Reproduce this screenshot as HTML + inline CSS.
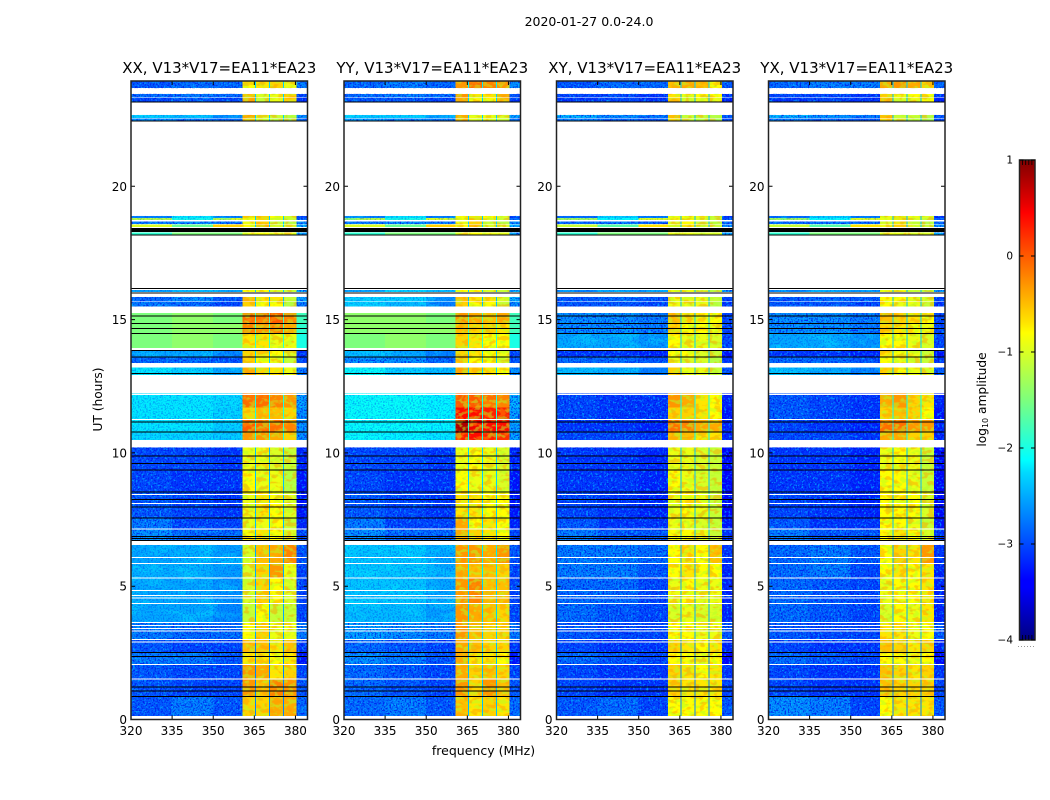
<!DOCTYPE html>
<html lang="en">
<head>
<meta charset="utf-8">
<title>2020-01-27 0.0-24.0</title>
<style>
html,body{margin:0;padding:0;background:#fff;width:1050px;height:800px;overflow:hidden}
svg{display:block}
text{font-family:"DejaVu Sans","Liberation Sans",sans-serif;fill:#000}
</style>
</head>
<body>
<svg id="fig" xmlns="http://www.w3.org/2000/svg" width="1050" height="800" viewBox="0 0 1050 800">
  <defs>
    <filter id="grain-dark" x="0" y="0" width="100%" height="100%" color-interpolation-filters="sRGB">
      <feTurbulence type="fractalNoise" baseFrequency="0.6" numOctaves="2" seed="4"/>
      <feColorMatrix type="matrix" values="0 0 0 0 0  0 0 0 0 0.05  0 0 0 0 0.9  5 0 0 0 -2.4"/>
    </filter>
    <filter id="grain-light" x="0" y="0" width="100%" height="100%" color-interpolation-filters="sRGB">
      <feTurbulence type="fractalNoise" baseFrequency="0.45" numOctaves="2" seed="11"/>
      <feColorMatrix type="matrix" values="0 0 0 0 0  0 0 0 0 0.72  0 0 0 0 1  0 5 0 0 -2.6"/>
    </filter>
    <filter id="swirl" x="0" y="0" width="100%" height="100%" color-interpolation-filters="sRGB">
      <feTurbulence type="fractalNoise" baseFrequency="0.05 0.09" numOctaves="3" seed="7"/>
      <feColorMatrix type="matrix" values="0 0 0 0 0  0 0 0 0 0.95  0 0 0 0 1  7 0 0 0 -3.4"/>
    </filter>
    <filter id="mottle-lime" x="0" y="0" width="100%" height="100%" color-interpolation-filters="sRGB">
      <feTurbulence type="fractalNoise" baseFrequency="0.16 0.24" numOctaves="2" seed="5"/>
      <feColorMatrix type="matrix" values="0 0 0 0 0.7  0 0 0 0 1  0 0 0 0 0.15  8 0 0 0 -3.9"/>
    </filter>
    <filter id="mottle-orange" x="0" y="0" width="100%" height="100%" color-interpolation-filters="sRGB">
      <feTurbulence type="fractalNoise" baseFrequency="0.14 0.22" numOctaves="2" seed="9"/>
      <feColorMatrix type="matrix" values="0 0 0 0 1  0 0 0 0 0.6  0 0 0 0 0  0 8 0 0 -4.1"/>
    </filter>
    <linearGradient id="jet-gradient" x1="0" y1="1" x2="0" y2="0"></linearGradient>
  </defs>
  <text x="589" y="26" font-size="12.5" text-anchor="middle">2020-01-27 0.0-24.0</text>
  <text x="483.5" y="755" font-size="12.5" text-anchor="middle">frequency (MHz)</text>
  <text x="0" y="0" font-size="12.2" text-anchor="middle" transform="translate(102 399.5) rotate(-90)">UT (hours)</text>
  <text x="0" y="0" font-size="12.2" text-anchor="middle" transform="translate(986 399.5) rotate(-90)">log<tspan font-size="8" dy="2">10</tspan><tspan dy="-2"> amplitude</tspan></text>
  <g id="panels"></g>
  <g id="colorbar"></g>
</svg>
<script>
// ---------- chart data (MHz, UT hours, log10 amplitude) ----------
const panelTitles = ["XX, V13*V17=EA11*EA23", "YY, V13*V17=EA11*EA23", "XY, V13*V17=EA11*EA23", "YX, V13*V17=EA11*EA23"];
const xTickValues = [320, 335, 350, 365, 380];
const yTickValues = [0, 5, 10, 15, 20];
const colorbarTicks = [1, 0, -1, -2, -3, -4];
// frequency column boundaries, and which entry of a level row each column uses
const freqEdges = [320, 335, 350, 360.7, 365.2, 365.7, 370.3, 370.8, 375.4, 375.9, 380.4, 384.4];
const columnLevel = [0, 1, 2, 3, 8, 4, 8, 5, 8, 6, 7];
// time rows: [start hour, end hour]
const timeRows = [
[23.68,23.96],[23.33,23.47],[23.17,23.31],[22.57,22.68],[22.47,22.54],
[18.82,18.89],[18.74,18.82],[18.58,18.68],[18.47,18.56],[18.19,18.27],[16.04,16.11],
[15.68,15.85],[15.49,15.66],[14.85,15.24],[14.48,14.85],[13.93,14.48],
[13.60,13.86],[13.37,13.60],[12.93,13.20],[11.70,12.22],[11.25,11.70],
[10.78,11.25],[10.49,10.78],[9.35,10.21],[8.54,9.35],[7.55,8.54],
[7.15,7.55],[6.71,7.15],[5.85,6.55],[5.30,5.85],[4.36,5.30],
[3.63,4.36],[3.01,3.63],[2.52,3.01],[2.07,2.52],[1.51,2.07],
[0.87,1.51],[0.14,0.87]];
// each row: left, middle, right background, spw 1-4, upper edge, spw gap
const levelsXX = [
[-2.9,-2.8,-2.8,-0.8,-0.7,-0.6,-0.9,-2.7,-2.3],[-2.8,-2.7,-2.8,-0.5,-1.0,-0.9,-0.6,-3.0,-2.3],
[-3.0,-2.9,-3.0,-0.4,-1.1,-0.9,-0.6,-3.1,-2.3],[-2.3,-2.4,-2.6,-0.4,-1.0,-1.1,-1.2,-2.6,-2.3],
[-2.6,-2.7,-2.8,-0.5,-1.1,-1.2,-1.3,-2.8,-2.3],[-2.7,-2.2,-2.7,-0.7,-0.6,-0.8,-1.0,-3.0,-2.3],
[-1.2,-2.0,-1.0,-0.8,-0.6,-1.0,-1.1,-2.8,-2.3],
[-2.7,-2.6,-2.7,-0.9,-0.6,-1.1,-1.2,-2.6,-2.3],[-1.0,-1.6,-0.6,-0.8,-0.5,-1.0,-1.0,-2.4,-2.3],
[-1.9,-1.5,-1.5,-0.9,-0.8,-0.9,-0.9,-2.5,-1.0],[-2.6,-2.4,-2.5,-0.8,-0.8,-1.0,-1.1,-2.4,-2.3],
[-2.8,-2.6,-2.9,-0.5,-0.7,-0.7,-1.1,-2.5,-2.4],[-2.7,-2.8,-3.0,-0.6,-0.8,-0.8,-1.2,-2.7,-2.4],
[-1.5,-1.4,-1.5,-0.1,-0.1, 0.0,-0.2,-1.8,-1.8],[-1.5,-1.4,-1.4,-0.2,-0.3,-0.2,-0.4,-1.9,-1.8],
[-1.5,-1.4,-1.5,-0.7,-0.7,-0.9,-0.9,-2.0,-1.9],[-2.5,-2.5,-2.7,-0.6,-0.7,-0.8,-1.0,-3.1,-2.3],
[-2.8,-2.8,-2.9,-0.6,-0.8,-0.9,-1.1,-3.0,-2.3],[-2.2,-2.3,-2.5,-0.4,-0.6,-0.7,-0.9,-2.7,-2.3],
[-2.2,-2.2,-2.25,-0.1,-0.1,-0.2,-0.3,-2.5,-2.0],[-2.2,-2.2,-2.3,-0.6,-0.5,-0.5,-0.6,-2.6,-2.0],
[-2.2,-2.2,-2.3, 0.0,-0.1,-0.1,-0.2,-2.6,-1.9],[-2.25,-2.25,-2.35,-0.3,-0.3,-0.4,-0.6,-2.6,-2.0],
[-3.0,-3.0,-3.1,-0.9,-0.9,-1.0,-1.1,-3.2,-2.4],[-3.0,-3.1,-3.1,-0.8,-0.9,-0.9,-1.2,-3.3,-2.4],
[-2.9,-3.0,-3.1,-0.9,-0.7,-0.8,-1.0,-3.3,-2.4],[-2.7,-3.0,-3.0,-0.9,-0.9,-0.8,-1.1,-3.2,-2.4],
[-2.6,-2.8,-2.8,-0.8,-0.7,-0.8,-1.0,-3.0,-2.4],[-2.5,-2.45,-2.55,-1.0,-0.5,-0.4,-0.2,-2.9,-2.5],
[-2.45,-2.45,-2.55,-1.0,-0.6,-0.3,-0.9,-3.0,-2.5],[-2.5,-2.5,-2.6,-1.0,-0.6,-0.8,-1.0,-3.0,-2.5],
[-2.5,-2.5,-2.65,-1.1,-0.8,-1.1,-1.1,-3.0,-2.5],[-2.7,-2.8,-2.8,-0.8,-0.6,-0.9,-0.9,-2.7,-2.5],
[-2.9,-3.0,-3.0,-0.5,-0.5,-0.7,-0.5,-3.1,-2.7],[-2.7,-2.7,-2.9,-0.7,-0.7,-0.8,-0.7,-3.3,-2.7],
[-2.9,-3.0,-3.0,-0.3,-0.4,-0.7,-0.6,-3.0,-2.7],[-2.9,-3.0,-3.0,-0.3,-0.5,-0.2,-0.3,-2.9,-2.7],
[-2.9,-2.7,-2.9,-0.6,-0.6,-0.4,-0.4,-2.8,-2.7]];
const levelsYY = [
[-2.8,-2.7,-2.8,-0.3,-0.1,-0.2,-0.3,-2.6,-2.2],[-2.8,-2.7,-2.8,-0.3,-0.7,-0.7,-0.4,-2.9,-2.3],
[-2.9,-2.9,-3.0,-0.4,-0.8,-0.8,-0.5,-3.0,-2.3],[-2.3,-2.3,-2.5,-0.4,-0.9,-0.9,-1.0,-2.5,-2.3],
[-2.5,-2.6,-2.7,-0.5,-1.0,-1.0,-1.1,-2.7,-2.3],[-2.7,-2.2,-2.7,-0.8,-0.7,-0.8,-1.0,-3.0,-2.3],
[-1.2,-2.0,-1.0,-0.8,-0.6,-1.0,-1.1,-2.8,-2.3],
[-2.7,-2.6,-2.7,-0.9,-0.6,-1.1,-1.2,-2.6,-2.3],[-1.0,-1.6,-0.6,-0.8,-0.5,-1.0,-1.0,-2.4,-2.3],
[-1.9,-1.5,-1.5,-0.9,-0.8,-0.9,-0.9,-2.5,-1.0],[-2.5,-2.3,-2.4,-0.8,-0.8,-1.0,-1.1,-2.4,-2.3],
[-2.3,-2.3,-2.6,-0.5,-0.7,-0.7,-1.0,-2.4,-2.4],[-2.3,-2.4,-2.7,-0.6,-0.8,-0.8,-1.1,-2.6,-2.4],
[-1.4,-1.4,-1.5,-0.3,-0.4,-0.5,-0.4,-1.8,-1.8],[-1.4,-1.4,-1.4,-0.5,-0.6,-0.6,-0.7,-1.8,-1.8],
[-1.5,-1.4,-1.5,-0.6,-0.7,-0.8,-0.8,-2.0,-1.9],[-2.4,-2.5,-2.7,-0.6,-0.7,-0.8,-0.9,-3.0,-2.3],
[-2.6,-2.6,-2.8,-0.6,-0.8,-0.8,-1.0,-2.9,-2.3],[-2.1,-2.3,-2.4,-0.4,-0.6,-0.7,-0.8,-2.6,-2.3],
[-2.1,-2.1,-2.15, 0.0, 0.0,-0.1,-0.2,-2.4,-2.0],[-2.1,-2.1,-2.15, 0.4, 0.4, 0.3, 0.3,-2.5,-2.0],
[-2.1,-2.1,-2.15, 0.8, 0.5, 0.4, 0.4,-2.5,-1.9],[-2.1,-2.15,-2.2, 0.3, 0.4, 0.3, 0.2,-2.5,-2.0],
[-3.0,-3.0,-3.1,-0.9,-0.8,-0.9,-1.0,-3.2,-2.3],[-3.0,-3.1,-3.1,-0.8,-0.9,-0.9,-1.0,-3.3,-2.3],
[-2.9,-3.0,-3.1,-0.7,-0.7,-0.8,-0.8,-3.3,-2.3],[-2.7,-3.0,-3.0,-0.4,-0.8,-0.7,-0.8,-3.2,-2.3],
[-2.6,-2.8,-2.8,-0.4,-0.6,-0.7,-0.8,-3.0,-2.3],[-2.35,-2.35,-2.5,-0.3,-0.3,-0.4,-0.3,-2.9,-2.2],
[-2.35,-2.35,-2.5,-0.4,-0.5,-0.5,-0.6,-3.0,-2.2],[-2.35,-2.35,-2.5,-0.3,-0.2,-0.5,-0.5,-3.0,-2.3],
[-2.4,-2.4,-2.55,-0.3,-0.4,-0.5,-0.6,-3.0,-2.3],[-2.5,-2.6,-2.7,-0.3,-0.5,-0.6,-0.6,-2.7,-2.3],
[-2.8,-2.9,-3.0,-0.4,-0.5,-0.6,-0.6,-3.1,-2.4],[-2.6,-2.7,-2.9,-0.4,-0.7,-0.7,-0.8,-3.3,-2.4],
[-2.8,-2.9,-3.0,-0.4,-0.6,-0.5,-0.6,-3.0,-2.4],[-2.8,-2.9,-3.0,-0.3,-0.6,-0.3,-0.5,-2.9,-2.4],
[-2.8,-2.7,-2.9,-0.5,-0.7,-0.6,-0.7,-2.8,-2.4]];
const levelsXY = [
[-2.9,-2.8,-2.8,-0.5,-0.4,-0.5,-0.8,-2.9,-2.3],[-3.0,-3.0,-3.1,-0.7,-0.9,-0.8,-0.8,-3.1,-2.4],
[-3.1,-3.0,-3.1,-0.6,-1.0,-0.9,-0.9,-3.2,-2.4],[-2.4,-2.6,-2.7,-0.5,-1.1,-1.1,-1.2,-2.9,-2.4],
[-2.7,-2.8,-2.9,-0.6,-1.1,-1.2,-1.3,-3.0,-2.4],[-2.8,-2.3,-2.7,-0.9,-0.8,-0.9,-1.1,-3.1,-2.4],
[-1.3,-2.1,-1.0,-0.9,-0.8,-1.0,-1.1,-2.9,-2.4],
[-2.8,-2.7,-2.8,-1.0,-0.8,-1.1,-1.2,-2.8,-2.4],[-1.1,-1.7,-0.7,-0.9,-0.7,-1.0,-1.1,-2.6,-2.4],
[-1.9,-1.5,-1.5,-0.9,-0.9,-1.0,-1.0,-2.5,-1.0],[-2.7,-2.5,-2.6,-0.9,-0.9,-1.1,-1.2,-2.5,-2.4],
[-2.9,-2.8,-2.9,-0.9,-0.9,-0.9,-1.1,-3.0,-2.4],[-2.9,-2.9,-3.0,-0.9,-0.9,-0.9,-1.2,-3.1,-2.4],
[-2.6,-2.6,-2.7,-0.5,-0.7,-0.8,-0.8,-3.0,-2.3],[-2.6,-2.6,-2.7,-0.6,-0.8,-0.8,-0.9,-3.0,-2.3],
[-2.5,-2.5,-2.6,-0.8,-0.9,-0.9,-1.0,-3.0,-2.3],[-3.1,-3.1,-3.2,-0.8,-0.8,-1.0,-1.1,-3.3,-2.4],
[-2.8,-2.8,-2.9,-0.9,-1.0,-1.0,-1.2,-3.1,-2.4],[-2.4,-2.5,-2.7,-0.6,-0.9,-0.9,-1.1,-2.9,-2.4],
[-3.0,-3.1,-3.1,-0.3,-0.4,-0.7,-0.8,-3.2,-2.1],[-3.0,-3.1,-3.1,-0.6,-0.6,-0.7,-0.8,-3.3,-2.1],
[-3.1,-3.1,-3.2,-0.1,-0.2,-0.4,-0.4,-3.2,-2.0],[-3.0,-3.0,-3.1,-0.5,-0.5,-0.7,-0.7,-3.2,-2.1],
[-3.1,-3.1,-3.2,-0.9,-0.9,-1.0,-1.1,-3.4,-2.4],[-3.1,-3.1,-3.2,-0.8,-0.9,-1.0,-1.1,-3.4,-2.4],
[-3.0,-3.1,-3.2,-0.9,-0.8,-0.9,-1.1,-3.4,-2.4],[-2.9,-3.1,-3.1,-0.9,-0.9,-1.0,-1.1,-3.3,-2.4],
[-2.7,-2.9,-2.9,-0.8,-0.8,-0.9,-1.1,-3.1,-2.4],[-2.7,-2.7,-2.8,-0.8,-0.7,-0.8,-0.5,-3.1,-2.5],
[-2.7,-2.7,-2.9,-0.8,-0.7,-0.8,-0.8,-3.2,-2.5],[-2.8,-2.8,-3.0,-0.9,-0.8,-0.9,-0.9,-3.2,-2.5],
[-2.8,-2.9,-3.0,-1.0,-0.9,-1.0,-1.0,-3.2,-2.5],[-2.9,-3.0,-3.0,-0.8,-0.8,-0.9,-0.9,-2.9,-2.5],
[-3.0,-3.1,-3.1,-0.6,-0.7,-0.8,-0.7,-3.2,-2.7],[-2.8,-2.9,-3.0,-0.8,-0.8,-0.9,-0.8,-3.4,-2.7],
[-3.0,-3.1,-3.1,-0.6,-0.7,-0.8,-0.7,-3.1,-2.7],[-3.0,-3.1,-3.1,-0.6,-0.7,-0.7,-0.7,-3.0,-2.7],
[-2.9,-2.8,-3.0,-0.8,-0.8,-0.8,-0.8,-2.9,-2.7]];
const levelsYX = [
[-2.8,-2.7,-2.7,-0.4,-0.3,-0.4,-0.6,-2.8,-2.3],[-3.0,-3.0,-3.1,-0.6,-0.9,-0.8,-0.8,-3.1,-2.4],
[-3.1,-3.0,-3.1,-0.5,-1.0,-0.9,-0.8,-3.2,-2.4],[-2.4,-2.6,-2.7,-0.5,-1.1,-1.1,-1.2,-2.9,-2.4],
[-2.7,-2.8,-2.9,-0.6,-1.1,-1.2,-1.3,-3.0,-2.4],[-2.8,-2.3,-2.7,-0.9,-0.7,-0.9,-1.0,-3.1,-2.4],
[-1.3,-2.1,-1.0,-0.9,-0.7,-1.0,-1.1,-2.9,-2.4],
[-2.8,-2.7,-2.8,-1.0,-0.7,-1.1,-1.2,-2.8,-2.4],[-1.1,-1.7,-0.7,-0.9,-0.6,-1.0,-1.1,-2.6,-2.4],
[-1.9,-1.5,-1.5,-0.9,-0.9,-1.0,-1.0,-2.5,-1.0],[-2.7,-2.5,-2.6,-0.9,-0.9,-1.1,-1.2,-2.5,-2.4],
[-2.9,-2.8,-2.9,-0.8,-0.8,-0.9,-1.0,-3.0,-2.4],[-2.9,-2.9,-3.0,-0.8,-0.9,-0.9,-1.1,-3.1,-2.4],
[-2.6,-2.6,-2.7,-0.5,-0.6,-0.7,-0.8,-3.0,-2.3],[-2.6,-2.6,-2.7,-0.6,-0.7,-0.8,-0.9,-3.0,-2.3],
[-2.5,-2.5,-2.6,-0.8,-0.8,-0.9,-1.0,-3.0,-2.3],[-3.1,-3.1,-3.2,-0.7,-0.8,-0.9,-1.1,-3.3,-2.4],
[-2.8,-2.8,-2.9,-0.8,-0.9,-1.0,-1.1,-3.1,-2.4],[-2.4,-2.5,-2.7,-0.6,-0.8,-0.9,-1.0,-2.9,-2.4],
[-2.9,-3.0,-3.1,-0.4,-0.3,-0.6,-0.7,-3.2,-2.1],[-2.9,-3.0,-3.1,-0.6,-0.5,-0.6,-0.8,-3.3,-2.1],
[-3.0,-3.1,-3.2,-0.1,-0.1,-0.3,-0.3,-3.2,-2.0],[-3.0,-3.0,-3.1,-0.4,-0.4,-0.6,-0.6,-3.2,-2.1],
[-3.1,-3.1,-3.2,-0.9,-0.8,-0.9,-1.1,-3.4,-2.4],[-3.1,-3.1,-3.2,-0.8,-0.8,-0.9,-1.1,-3.4,-2.4],
[-3.0,-3.1,-3.2,-0.8,-0.8,-0.8,-1.0,-3.4,-2.4],[-2.9,-3.1,-3.1,-0.8,-0.8,-0.9,-1.1,-3.3,-2.4],
[-2.7,-2.9,-2.9,-0.8,-0.7,-0.8,-1.0,-3.1,-2.4],[-2.8,-2.7,-2.9,-0.8,-0.6,-0.7,-0.3,-3.1,-2.5],
[-2.8,-2.7,-3.0,-0.8,-0.7,-0.8,-0.7,-3.2,-2.5],[-2.8,-2.9,-3.0,-0.9,-0.8,-0.8,-0.7,-3.2,-2.5],
[-2.8,-2.9,-3.0,-1.0,-0.8,-0.9,-0.7,-3.2,-2.5],[-2.9,-3.0,-3.0,-0.7,-0.7,-0.9,-0.8,-2.9,-2.5],
[-3.0,-3.1,-3.1,-0.5,-0.6,-0.7,-0.6,-3.2,-2.7],[-2.8,-2.9,-3.0,-0.8,-0.8,-0.9,-0.8,-3.4,-2.7],
[-3.0,-3.1,-3.1,-0.5,-0.6,-0.7,-0.6,-3.1,-2.7],[-3.0,-3.1,-3.1,-0.5,-0.6,-0.6,-0.6,-3.0,-2.7],
[-2.6,-2.7,-3.0,-0.8,-0.7,-0.7,-0.7,-2.9,-2.7]];
const panelLevels = [levelsXX, levelsYY, levelsXY, levelsYX];
// flagged integrations, hours
const whiteLineHours = [12.19,11.25,8.44,8.11,7.15,6.07,5.85,5.30,4.83,4.65,4.55,4.36,3.63,3.53,3.42,3.32,3.01,2.91,2.07,1.51];
const blackLineHours = [23.16,22.45,18.42,18.38,18.34,18.31,18.17,16.17,16.00,15.13,14.85,14.66,14.48,13.84,13.59,12.98,11.15,10.78,9.88,9.61,9.35,8.54,8.26,7.98,7.55,6.86,6.78,6.71,2.52,2.37,1.21,1.06,0.87];
// matplotlib jet control points: [position, r, g, b]
const jetStops = [[0,0,0,128],[0.11,0,0,255],[0.125,0,0,255],[0.35,0,219,255],[0.375,0,255,255],[0.5,125,255,125],[0.64,255,255,0],[0.66,255,230,0],[0.89,255,0,0],[0.91,230,0,0],[1,128,0,0]];

// ---------- layout ----------
const panelLefts = [131, 344, 556.5, 768.5];
const panelWidth = 176.5;
const panelTop = 81, panelBottom = 719.5;
const xMin = 320, xMax = 384.4, yMin = 0, yMax = 23.95;
const cMin = -4, cMax = 1;
const NS = "http://www.w3.org/2000/svg";
const cbLeft = 1019.5, cbRight = 1035, cbTop = 160, cbBottom = 640;
const quietRowLevel = -2.55, smoothRowLevel = -1.9;

function make(tag, attrs, parent) {
  const el = document.createElementNS(NS, tag);
  for (const k in attrs) el.setAttribute(k, attrs[k]);
  parent.appendChild(el);
  return el;
}
function jet(v) {
  const p = Math.max(0, Math.min(1, (v - cMin) / (cMax - cMin)));
  for (let i = 1; i < jetStops.length; i++) {
    const a = jetStops[i - 1], b = jetStops[i];
    if (p <= b[0]) {
      const t = (p - a[0]) / (b[0] - a[0]);
      return "rgb(" + [1, 2, 3].map(c => Math.round(a[c] + (b[c] - a[c]) * t)).join(",") + ")";
    }
  }
  return "rgb(128,0,0)";
}
function yScale(h) { return panelBottom - (h - yMin) / (yMax - yMin) * (panelBottom - panelTop); }
function cScale(v) { return cbBottom - (v - cMin) / (cMax - cMin) * (cbBottom - cbTop); }

const defs = document.querySelector("#fig defs");
const panelsGroup = document.getElementById("panels");

panelTitles.forEach(function (title, p) {
  const left = panelLefts[p];
  const xScale = f => left + (f - xMin) / (xMax - xMin) * panelWidth;
  const g = make("g", {}, panelsGroup);
  
  

  const noisyClip = make("clipPath", { id: "noisy-clip-" + p }, defs);
  const softClip = make("clipPath", { id: "soft-clip-" + p }, defs);
  const spwClip = make("clipPath", { id: "spw-clip-" + p }, defs);
  const levels = panelLevels[p];
  timeRows.forEach(function (row, r) {
    const yTop = yScale(row[1]), yBot = yScale(row[0]);
    const bg = levels[r][1];
    freqEdges.slice(0, -1).forEach(function (edge, c) {
      const x0 = xScale(edge), x1 = xScale(freqEdges[c + 1]);
      const box = { x: x0, y: yTop, width: x1 - x0, height: yBot - yTop };
      const cell = make("rect", Object.assign({ fill: jet(levels[r][columnLevel[c]]), "shape-rendering": "crispEdges" }, box), g);
      
      
      if (c < 3) {
        if (bg < quietRowLevel) make("rect", box, noisyClip);
        else if (bg < smoothRowLevel) make("rect", box, softClip);
      } else if (c === 10) {
        if (levels[r][7] < -2.3) make("rect", box, noisyClip);
      } else if (columnLevel[c] !== 8) {
        make("rect", box, spwClip);
      }
    });
  });

  const full = { x: left, y: panelTop, width: panelWidth, height: panelBottom - panelTop };
  const noisy = make("g", { "clip-path": "url(#noisy-clip-" + p + ")" }, g);
  
  
  make("rect", Object.assign({ filter: "url(#grain-light)", opacity: 0.7 }, full), noisy);
  make("rect", Object.assign({ filter: "url(#grain-dark)", opacity: 0.75 }, full), noisy);
  const soft = make("g", { "clip-path": "url(#soft-clip-" + p + ")" }, g);
  
  
  make("rect", Object.assign({ filter: "url(#swirl)", opacity: 0.3 }, full), soft);
  make("rect", Object.assign({ filter: "url(#grain-dark)", opacity: 0.3 }, full), soft);
  const spw = make("g", { "clip-path": "url(#spw-clip-" + p + ")" }, g);
  
  
  make("rect", Object.assign({ filter: "url(#mottle-lime)", opacity: 0.5 }, full), spw);
  make("rect", Object.assign({ filter: "url(#mottle-orange)", opacity: 0.45 }, full), spw);

  whiteLineHours.forEach(function (h) {
    const line = make("line", { x1: left, x2: left + panelWidth, y1: yScale(h), y2: yScale(h), stroke: "#fff", "stroke-width": 1, "shape-rendering": "crispEdges" }, g);
    
    
  });
  blackLineHours.forEach(function (h) {
    const line = make("line", { x1: left, x2: left + panelWidth, y1: yScale(h), y2: yScale(h), stroke: "#000", "stroke-width": 1, "shape-rendering": "crispEdges" }, g);
    
    
  });

  xTickValues.forEach(function (v) {
    const x = xScale(v);
    const tick = make("path", { d: "M" + x + " " + panelBottom + "v-4M" + x + " " + panelTop + "v4", stroke: "#000", "stroke-width": 1, fill: "none" }, g);
    
    
    const label = make("text", { x: x, y: 735, "font-size": 12, "text-anchor": "middle" }, g);
    
    
    label.textContent = v;
  });
  yTickValues.forEach(function (v) {
    const y = yScale(v);
    const tick = make("path", { d: "M" + left + " " + y + "h4M" + (left + panelWidth) + " " + y + "h-4", stroke: "#000", "stroke-width": 1, fill: "none" }, g);
    
    
    const label = make("text", { x: left - 4, y: y + 4.5, "font-size": 12, "text-anchor": "end" }, g);
    
    
    label.textContent = v;
  });

  const frame = make("rect", { x: left, y: panelTop, width: panelWidth, height: panelBottom - panelTop, fill: "none", stroke: "#222", "stroke-width": 1.5 }, g);
  
  
  const t = make("text", { x: left + panelWidth / 2, y: 73, "font-size": 15, "text-anchor": "middle" }, g);
  
  
  t.textContent = title;
});

// ---------- colorbar ----------
const gradient = document.getElementById("jet-gradient");
jetStops.forEach(function (s) {
  make("stop", { offset: s[0], "stop-color": "rgb(" + s[1] + "," + s[2] + "," + s[3] + ")" }, gradient);
});
const cb = document.getElementById("colorbar");
const cbBar = make("rect", { x: cbLeft, y: cbTop, width: cbRight - cbLeft, height: cbBottom - cbTop, fill: "url(#jet-gradient)", stroke: "#222", "stroke-width": 1.5 }, cb);


colorbarTicks.forEach(function (v) {
  const y = cScale(v);
  const tick = make("path", { d: "M" + cbLeft + " " + y + "h4M" + cbRight + " " + y + "h-4", stroke: "#000", "stroke-width": 1, fill: "none" }, cb);
  
  
  const label = make("text", { x: 1013, y: y + 3.5, "font-size": 10.5, "text-anchor": "end" }, cb);
  
  
  label.textContent = String(v).replace("-", "\u2212");
});
for (let i = 1; i < 5; i++) {
  const xm = cbLeft + i * (cbRight - cbLeft) / 5;
  const minor = make("path", { d: "M" + xm + " " + cbTop + "v5M" + xm + " " + cbBottom + "v-5", stroke: "#000", "stroke-width": 0.8, fill: "none" }, cb);
  
  
}
for (let i = 0; i < 6; i++) {
  const dot = make("rect", { x: 1018 + i * 3, y: 646, width: 1, height: 1, fill: "#999" }, cb);
  
  
}
</script>
</body>
</html>
